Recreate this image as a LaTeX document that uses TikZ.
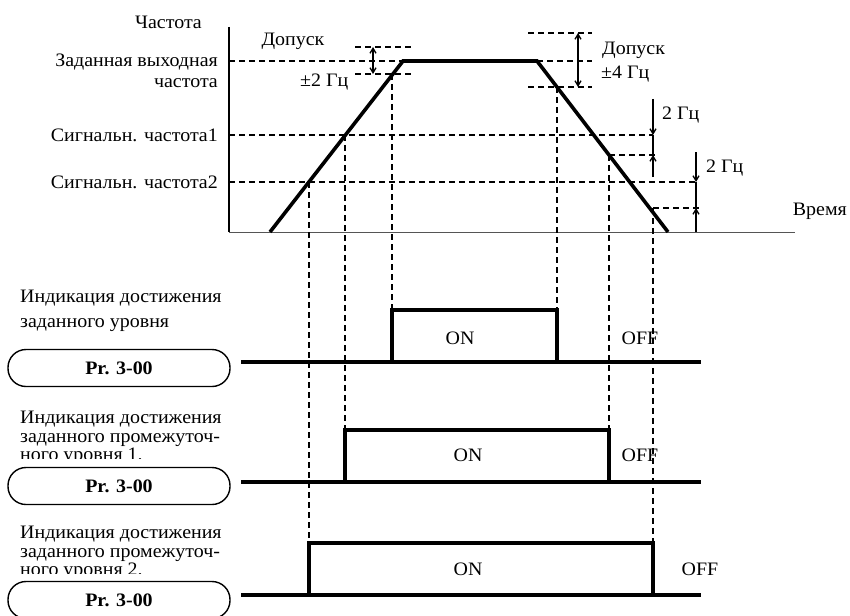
\documentclass[tikz,border=0pt]{standalone}
\usepackage{fontspec}
\setmainfont[FakeStretch=1.05]{Liberation Serif}
\usetikzlibrary{arrows.meta}
\definecolor{ink}{HTML}{000000}
\definecolor{subink}{HTML}{555555}

\begin{document}
\begin{tikzpicture}[
    x=1pt, y=-1pt,
    >={Straight Barb[length=5pt, width=6pt]},
    every node/.style={font=\fontsize{19}{22}\selectfont, text=ink, inner sep=0pt},
    % Frequency curve
    curve/.style={line width=3.6pt, ink, line join=miter},
    % Dashed guide line
    guide/.style={dash pattern=on 6pt off 4pt, line width=1.3pt, ink},
    % Output signal
    sig/.style={line width=3.2pt, ink},
    % Tolerance arrow
    tol/.style={<->, line width=1.3pt, ink},
    hys/.style={->, line width=1.3pt, ink},
    % Parameter box
    parbox/.style={rectangle, rounded corners=18pt, draw=ink, line width=1.4pt,
                   minimum width=222pt, minimum height=37pt,
                   font=\fontsize{19}{22}\selectfont\bfseries},
    lbl/.style={anchor=base east},
    txt/.style={anchor=base west}
]
\useasboundingbox (0,0) rectangle (850,615);

% ---------- Axes ----------
\coordinate (orig) at (229,232);
\coordinate (ytop) at (229,27);
\coordinate (xend) at (795,232);
\draw[line width=2pt, ink] (ytop) -- (orig);
\draw[line width=1pt, subink] (orig) -- (xend);
\node[lbl] (fqax) at (202,29) {Частота};
\node[lbl] (tmax) at (847,215) {Время};

% ---------- Key points of the curve ----------
\coordinate (r0) at (270,232);
\coordinate (r1) at (403,61);
\coordinate (f1) at (537,61);
\coordinate (f0) at (668,232);
\coordinate (up2) at (309,182);
\coordinate (up1) at (345,135);
\coordinate (upt) at (392,74);
\coordinate (dnt) at (557,87);
\coordinate (dn1) at (609,155);
\coordinate (dn2) at (653,208);

% ---------- Level labels ----------
\node[lbl] (setf) at (218,67) {Заданная выходная};
\node[lbl] (setf2) at (218,88) {частота};
\node[lbl] (sig1) at (218,141) {Сигнальн. частота1};
\node[lbl] (sig2) at (218,188) {Сигнальн. частота2};

% ---------- Horizontal guides ----------
\draw[guide] (orig |- r1) -- (r1);
\draw[guide] (f1) -- (592,61);
\draw[guide] (355,47) -- (413,47);
\draw[guide] (355,74) -- (413,74);
\draw[guide] (528,33) -- (592,33);
\draw[guide] (528,87) -- (592,87);
\draw[guide] (orig |- up1) -- (653,135);
\draw[guide] (orig |- up2) -- (697,182);
\draw[guide] (dn1) -- (658,155);
\draw[guide] (dn2) -- (702,208);

% ---------- Vertical guides ----------
\draw[guide] (up2) -- (up2 |- 0,543);
\draw[guide] (up1) -- (up1 |- 0,430);
\draw[guide] (upt) -- (upt |- 0,310);
\draw[guide] (dnt) -- (dnt |- 0,310);
\draw[guide] (dn1) -- (dn1 |- 0,430);
\draw[guide] (dn2) -- (dn2 |- 0,543);

% ---------- Frequency curve ----------
\draw[curve] (r0) -- (r1) -- (f1) -- (f0);

% ---------- Tolerances ----------
\draw[tol] (373,47) -- (373,74);
\node (tl1) at (293,41) {Допуск};
\node[txt] (tl2) at (300,87) {±2 Гц};
\draw[tol] (578,33) -- (578,87);
\node[txt] (tr1) at (602,55) {Допуск};
\node[txt] (tr2) at (601,79) {±4 Гц};

% ---------- Hysteresis 2 Hz ----------
\draw[hys] (653,99) -- (653,135);
\draw[line width=1.3pt, ink] (653,135) -- (653,155);
\draw[hys] (653,177) -- (653,155);
\node[txt] (h1) at (662,120) {2 Гц};
\draw[hys] (696,152) -- (696,182);
\draw[line width=1.3pt, ink] (696,182) -- (696,208);
\draw[hys] (696,232) -- (696,208);
\node[txt] (h2) at (706,172) {2 Гц};

% ---------- Output 1 ----------
\node[txt] (o1a) at (20,302) {Индикация достижения};
\node[txt] (o1b) at (20,327) {заданного уровня};
\node[parbox] (pr1) at (119,368) {Pr. 3-00};
\draw[sig] (241,362) -- (701,362);
\draw[sig] (upt |- 0,362) -- (upt |- 0,310) -- (dnt |- 0,310) -- (dnt |- 0,362);
\node (on1) at (460,338) {ON};
\node (off1) at (640,338) {OFF};

% ---------- Output 2 ----------
\begin{scope}
  \clip (0,400) rectangle (240,458);
  \node[txt] (o2a) at (20,423) {Индикация достижения};
  \node[txt] (o2b) at (20,442) {заданного промежуточ-};
  \node[txt] (o2c) at (20,460) {ного уровня 1.};
\end{scope}
\node[parbox] (pr2) at (119,486) {Pr. 3-00};
\draw[sig] (241,482) -- (701,482);
\draw[sig] (up1 |- 0,482) -- (up1 |- 0,430) -- (dn1 |- 0,430) -- (dn1 |- 0,482);
\node (on2) at (468,455) {ON};
\node (off2) at (640,455) {OFF};

% ---------- Output 3 ----------
\begin{scope}
  \clip (0,515) rectangle (240,573);
  \node[txt] (o3a) at (20,538) {Индикация достижения};
  \node[txt] (o3b) at (20,557) {заданного промежуточ-};
  \node[txt] (o3c) at (20,575) {ного уровня 2.};
\end{scope}
\node[parbox] (pr3) at (119,600) {Pr. 3-00};
\draw[sig] (241,595) -- (701,595);
\draw[sig] (up2 |- 0,595) -- (up2 |- 0,543) -- (dn2 |- 0,543) -- (dn2 |- 0,595);
\node (on3) at (468,569) {ON};
\node (off3) at (700,569) {OFF};

\end{tikzpicture}
\end{document}
